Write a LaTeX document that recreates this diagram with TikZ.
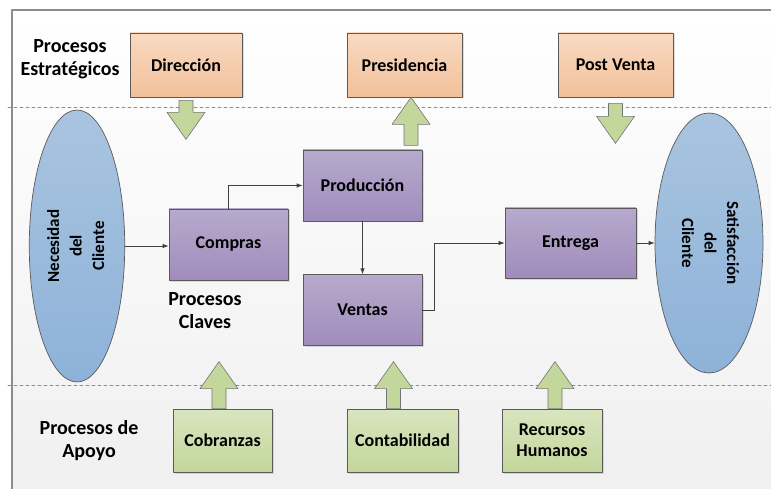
\documentclass[tikz,border=0pt]{standalone}
\usepackage{fontspec}
\setmainfont{Carlito}
\usepackage{tikz}
\usetikzlibrary{arrows.meta,shapes.geometric,shadows,positioning}
\definecolor{orangetop}{HTML}{F9DAC2}
\definecolor{orangebot}{HTML}{F2C09A}
\definecolor{purpletop}{HTML}{B7AACD}
\definecolor{purplebot}{HTML}{A08CBC}
\definecolor{greentop}{HTML}{D9E5BF}
\definecolor{greenbot}{HTML}{C3D69B}
\definecolor{bluetop}{HTML}{A9C4DF}
\definecolor{bluebot}{HTML}{8DB2D9}
\definecolor{arrowgreen}{HTML}{C3D69B}
\definecolor{boxline}{HTML}{5A5A5A}
\definecolor{linegray}{HTML}{404040}
\definecolor{framegray}{HTML}{8C8C8C}
\tikzset{
  BaseBox/.style={
    rectangle, draw=boxline, line width=0.7pt,
    inner sep=2pt, align=center,
    font=\bfseries\fontsize{18}{21}\selectfont,
    drop shadow={shadow xshift=1.5pt, shadow yshift=-1.5pt, opacity=0.25}
  },
  StratBox/.style={BaseBox, top color=orangetop, bottom color=orangebot,
    minimum width=115pt, minimum height=64pt},
  KeyBox/.style={BaseBox, top color=purpletop, bottom color=purplebot,
    minimum width=119pt, minimum height=71pt},
  SupportBox/.style={BaseBox, top color=greentop, bottom color=greenbot,
    minimum height=63pt},
  ClientEllipse/.style={
    ellipse, draw=boxline, line width=0.7pt, inner sep=0pt,
    top color=bluetop, bottom color=bluebot,
    font=\bfseries\fontsize{17}{22.5}\selectfont
  },
  GroupLabel/.style={align=center, font=\bfseries\fontsize{20}{23}\selectfont},
  Flow/.style={draw=linegray, line width=0.8pt, -{Latex[length=6pt,width=4.5pt]}},
  BlockArrow/.style={draw=black!55, line width=0.6pt, fill=arrowgreen},
  pics/blkarrow/.style={code={%
    % tip at the origin, pointing up, #1 = total length
    \draw[BlockArrow] (0,0) -- (19,-27) -- (7,-27) -- (7,-#1)
      -- (-7,-#1) -- (-7,-27) -- (-19,-27) -- cycle;
  }}
}

\begin{document}
\begin{tikzpicture}[x=1pt, y=1pt, line cap=round, line join=round]
  \useasboundingbox (0,0) rectangle (771,488);
  \clip (0,0) rectangle (771,488);

  % background and frame
  \shade[top color=white, bottom color=black!6] (12,-5) rectangle (780,478);
  \draw[framegray, line width=1.2pt] (12,-5) -- (12,478) -- (780,478);
  \draw[black!45, dashed, line width=0.8pt] (8,381) -- (771,381);
  \draw[black!45, dashed, line width=0.8pt] (8,103) -- (771,103);

  % strategic processes
  \node[GroupLabel] (lblstrat) at (70,429) {Procesos\\Estratégicos};
  \node[StratBox, minimum width=112pt] (dir) at (186,423) {Dirección};
  \node[StratBox] (pres) at (404.5,423) {Presidencia};
  \node[StratBox] (post) at (615.5,423) {Post Venta};

  % client ends
  \node[ClientEllipse, minimum width=90pt, minimum height=272pt] (nec) at (77,242)
    {\rotatebox{90}{\begin{tabular}{@{}c@{}}Necesidad\\del\\Cliente\end{tabular}}};
  \node[ClientEllipse, minimum width=108pt, minimum height=260pt] (sat) at (709,245)
    {\rotatebox{-90}{\begin{tabular}{@{}c@{}}Satisfacción\\del\\Cliente\end{tabular}}};

  % key processes
  \node[KeyBox] (comp) at (228.5,243.5) {Compras};
  \node[KeyBox] (prod) at (362.5,302.5) {Producción};
  \node[KeyBox, below=53pt of prod] (vent) {Ventas};
  \node[KeyBox, minimum width=131pt, minimum height=70pt] (entr) at (570.5,245) {Entrega};
  \node[GroupLabel] (lblkey) at (205,177) {Procesos\\Claves};

  % support processes
  \node[GroupLabel] (lblsup) at (89,47) {Procesos de\\Apoyo};
  \node[SupportBox, minimum width=99pt] (cob) at (222.5,47.5) {Cobranzas};
  \node[SupportBox, minimum width=111pt] (cont) at (402.5,47.5) {Contabilidad};
  \node[SupportBox, minimum width=100pt] (rrhh) at (552,47.5) {Recursos\\Humanos};

  % flow of the key processes
  \draw[Flow] (nec.east) -- (nec.east -| comp.west);
  \draw[Flow] (comp.north) |- (prod.west);
  \draw[Flow] (prod.south) -- (vent.north);
  \draw[Flow] (vent.east) -- ++(12,0) |- (entr.west);
  \draw[Flow] (entr.east) -- (entr.east -| sat.west);

  % block arrows
  \pic[rotate=180] at ([yshift=-42pt]dir.south) {blkarrow=39};
  \pic at ([xshift=6.5pt]pres.south) {blkarrow=48};
  \pic[rotate=180] at ([yshift=-46pt]post.south) {blkarrow=40};
  \pic at ([xshift=-3.5pt,yshift=47pt]cob.north) {blkarrow=47};
  \pic at ([xshift=-9pt,yshift=47pt]cont.north) {blkarrow=47};
  \pic at ([xshift=3pt,yshift=47pt]rrhh.north) {blkarrow=47};
\end{tikzpicture}
\end{document}
